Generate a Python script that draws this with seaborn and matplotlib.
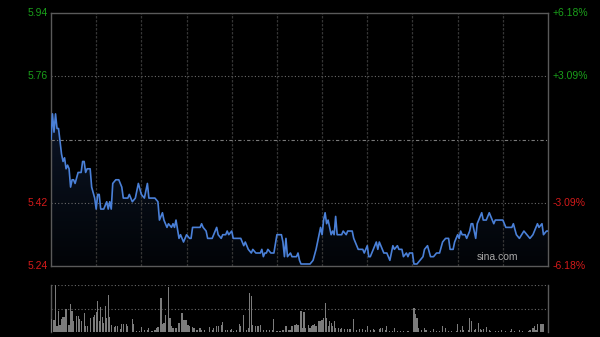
import numpy as np
import pandas as pd
import matplotlib
matplotlib.use("Agg")
import matplotlib.pyplot as plt
import seaborn as sns
from matplotlib.colors import LinearSegmentedColormap
from matplotlib.patches import Polygon

# ---------------- data ----------------
prev_close = 5.59
left_ticks = [5.94, 5.76, 5.42, 5.24]
right_ticks = ["+6.18%", "+3.09%", "-3.09%", "-6.18%"]

minutes = [0, 1, 2, 3, 4, 5, 7, 8, 9, 10, 11, 12, 13, 14, 15, 16, 18, 20, 21, 22, 23, 24, 26, 27, 29, 30,
           31, 32, 33, 35, 37, 38, 39, 40, 41, 43, 45, 47, 48, 51, 52, 54, 56, 58, 60, 62, 64, 65, 67, 69,
           71, 72, 74, 75, 77, 78, 80, 81, 82, 83, 85, 86, 88, 89, 90, 92, 93, 94, 99, 100, 101, 103, 104,
           107, 109, 110, 111, 113, 114, 116, 117, 118, 120, 121, 124, 126, 128, 129, 131, 133, 134, 136,
           139, 140, 141, 142, 143, 144, 146, 148, 150, 153, 154, 155, 156, 157, 159, 160, 162, 163, 164,
           165, 166, 172, 174, 176, 178, 179, 180, 181, 182, 183, 184, 186, 187, 188, 189, 190, 193, 194,
           196, 197, 198, 200, 201, 202, 204, 207, 208, 210, 211, 212, 215, 216, 217, 218, 221, 223, 225,
           226, 227, 228, 230, 231, 233, 234, 236, 237, 238, 240, 241, 242, 243, 245, 247, 248, 250, 252,
           254, 256, 258, 260, 262, 264, 265, 267, 268, 270, 271, 272, 273, 275, 276, 278, 279, 280, 282,
           283, 284, 286, 287, 289, 291, 292, 294, 295, 300, 302, 306, 307, 309, 311, 314, 316, 318, 320,
           323, 324, 326, 327, 329, 330]
prices = [5.59, 5.66, 5.61, 5.66, 5.62, 5.62, 5.55, 5.53, 5.54, 5.51, 5.52, 5.51, 5.46, 5.48, 5.48, 5.47,
          5.50, 5.50, 5.53, 5.53, 5.50, 5.51, 5.51, 5.46, 5.43, 5.40, 5.44, 5.44, 5.40, 5.40, 5.42, 5.40,
          5.42, 5.40, 5.47, 5.48, 5.48, 5.46, 5.43, 5.43, 5.44, 5.42, 5.43, 5.47, 5.44, 5.43, 5.47, 5.43,
          5.43, 5.43, 5.42, 5.37, 5.39, 5.37, 5.35, 5.36, 5.35, 5.36, 5.35, 5.37, 5.32, 5.33, 5.31, 5.32,
          5.33, 5.32, 5.32, 5.35, 5.35, 5.36, 5.35, 5.34, 5.32, 5.32, 5.34, 5.35, 5.33, 5.32, 5.33, 5.33,
          5.34, 5.33, 5.34, 5.32, 5.32, 5.32, 5.30, 5.31, 5.29, 5.28, 5.29, 5.28, 5.28, 5.29, 5.27, 5.28,
          5.28, 5.29, 5.28, 5.28, 5.33, 5.33, 5.31, 5.27, 5.32, 5.27, 5.28, 5.27, 5.27, 5.27, 5.28, 5.26,
          5.25, 5.25, 5.26, 5.29, 5.33, 5.35, 5.33, 5.37, 5.39, 5.36, 5.37, 5.33, 5.34, 5.33, 5.38, 5.33,
          5.33, 5.34, 5.33, 5.34, 5.34, 5.34, 5.32, 5.31, 5.29, 5.29, 5.28, 5.30, 5.27, 5.27, 5.30, 5.31,
          5.29, 5.31, 5.28, 5.28, 5.26, 5.28, 5.30, 5.29, 5.30, 5.29, 5.29, 5.27, 5.28, 5.27, 5.28, 5.28,
          5.25, 5.25, 5.25, 5.26, 5.27, 5.29, 5.30, 5.27, 5.27, 5.28, 5.28, 5.31, 5.32, 5.32, 5.29, 5.29,
          5.31, 5.33, 5.32, 5.34, 5.33, 5.33, 5.32, 5.34, 5.36, 5.36, 5.32, 5.36, 5.37, 5.39, 5.37, 5.37,
          5.39, 5.38, 5.36, 5.37, 5.37, 5.35, 5.35, 5.36, 5.33, 5.32, 5.34, 5.33, 5.32, 5.33, 5.36, 5.35,
          5.36, 5.33, 5.34, 5.34]

vol_minutes = [0, 2, 3, 4, 5, 6, 7, 8, 9, 10, 12, 13, 14, 15, 17, 18, 19, 20, 22, 23, 24, 26, 28, 29, 30,
               31, 32, 33, 34, 35, 36, 37, 38, 39, 40, 42, 43, 44, 46, 47, 48, 50, 51, 54, 55, 57, 59, 60,
               62, 64, 65, 67, 69, 70, 71, 73, 74, 75, 76, 78, 79, 80, 81, 83, 85, 87, 88, 89, 90, 91, 92,
               94, 95, 97, 99, 100, 102, 105, 107, 108, 110, 111, 113, 114, 116, 117, 119, 120, 121, 123,
               125, 126, 128, 130, 131, 132, 133, 134, 136, 137, 138, 139, 141, 143, 145, 147, 148, 150,
               152, 154, 156, 158, 159, 160, 162, 163, 164, 166, 167, 168, 169, 171, 172, 173, 174, 175,
               176, 178, 179, 180, 181, 182, 183, 184, 185, 186, 187, 188, 189, 191, 192, 193, 195, 197,
               198, 199, 201, 203, 205, 207, 209, 210, 212, 214, 215, 218, 219, 220, 222, 223, 225, 227,
               228, 230, 232, 234, 237, 241, 242, 243, 244, 246, 248, 249, 252, 254, 256, 258, 260, 262,
               264, 266, 269, 270, 272, 273, 274, 277, 278, 279, 281, 282, 284, 285, 286, 287, 289, 291,
               292, 295, 297, 299, 302, 305, 306, 308, 311, 313, 317, 318, 320, 321, 322, 323, 325, 326,
               327]
vol_values = [13, 12, 47, 6, 21, 7, 13, 15, 15, 23, 7, 28, 21, 11, 16, 16, 13, 11, 19, 6, 6, 14, 15, 17,
              20, 31, 11, 25, 15, 9, 26, 14, 37, 15, 7, 5, 6, 6, 3, 8, 8, 8, 6, 13, 8, 1, 1, 5, 2, 2, 4,
              1, 2, 4, 5, 34, 8, 9, 17, 45, 14, 6, 4, 4, 9, 19, 12, 12, 12, 7, 6, 5, 4, 2, 4, 2, 2, 5, 2,
              4, 6, 6, 7, 10, 2, 2, 2, 3, 1, 2, 8, 6, 17, 2, 4, 39, 36, 7, 6, 6, 6, 7, 2, 2, 2, 2, 13, 1,
              1, 2, 6, 2, 2, 6, 7, 8, 7, 21, 4, 20, 4, 7, 4, 6, 7, 8, 6, 11, 11, 12, 14, 29, 14, 6, 11, 9,
              6, 11, 4, 4, 3, 4, 3, 3, 3, 3, 13, 2, 3, 3, 2, 6, 2, 3, 2, 3, 4, 4, 2, 6, 1, 1, 4, 1, 1, 1,
              1, 24, 18, 14, 4, 2, 4, 2, 1, 3, 1, 1, 6, 4, 1, 1, 1, 8, 2, 6, 2, 2, 14, 11, 2, 3, 9, 3, 2,
              3, 5, 2, 1, 1, 1, 2, 1, 1, 3, 1, 2, 1, 1, 2, 4, 6, 2, 8, 8, 8, 8]

# ---------------- style ----------------
sns.set_style("dark")
plt.rcParams["font.family"] = ["Liberation Sans", "DejaVu Sans"]
BG = "#000000"
GREEN = "#1a9f1a"
RED = "#d41a1a"
LINE = "#4a80d8"
BORDER = "#5a5a5a"

ymin, ymax = prev_close * (1 - 0.0618), prev_close * (1 + 0.0618)
level_vals = [ymax, prev_close * 1.0309, prev_close * 0.9691, ymin]

fig = plt.figure(figsize=(6.0, 3.37), dpi=100, facecolor=BG)
ax = fig.add_axes([51 / 600, 71 / 337, 497 / 600, 253 / 337])
axv = fig.add_axes([51 / 600, 4.7 / 337, 497 / 600, 47.3 / 337])

for a in (ax, axv):
    a.set_facecolor(BG)
    a.grid(False)

df = pd.DataFrame({"minute": minutes, "price": prices})

# gradient fill under the price line
cmap = LinearSegmentedColormap.from_list("fill", ["#020407", "#12203a"])
grad = np.linspace(0, 1, 256).reshape(-1, 1)
im = ax.imshow(grad, extent=[0, 330, ymin, ymax], origin="lower", cmap=cmap,
               aspect="auto", zorder=1)
poly_xy = np.column_stack([np.r_[df.minute, df.minute.iloc[-1], df.minute.iloc[0]],
                           np.r_[df.price, ymin, ymin]])
poly = Polygon(poly_xy, closed=True, transform=ax.transData, facecolor="none", edgecolor="none")
ax.add_patch(poly)
im.set_clip_path(poly)

# grid lines
for m in range(30, 330, 30):
    ax.axvline(m, color="#353535", lw=0.9, ls=(0, (2, 1.2)), zorder=2)
for lv in (level_vals[1], level_vals[2]):
    ax.axhline(lv, color="#6a6a6a", lw=0.8, ls=(0, (1, 2)), zorder=2)
ax.axhline(prev_close, color="#7a7a7a", lw=0.8, ls=(0, (3, 2, 1, 2)), zorder=2)

sns.lineplot(data=df, x="minute", y="price", ax=ax, color=LINE, lw=1.2, zorder=4)

ax.set_xlim(0, 330)
ax.set_ylim(ymin, ymax)
ax.set_xticks([])
ax.set_yticks([])
ax.set_xlabel("")
ax.set_ylabel("")
for s in ax.spines.values():
    s.set_visible(True)
    s.set_color(BORDER)
    s.set_linewidth(1.0)

# tick labels (left prices, right percentages)
lcolors = [GREEN, GREEN, RED, RED]
for val, lab, rlab, c in zip(level_vals, left_ticks, right_ticks, lcolors):
    ax.text(-0.007, val, f"{lab:.2f}", transform=ax.get_yaxis_transform(), ha="right",
            va="center", color=c, fontsize=7.5)
    ax.text(1.01, val, rlab, transform=ax.get_yaxis_transform(), ha="left",
            va="center", color=c, fontsize=7.5)

ax.text(0.898, 0.016, "sina.com", transform=ax.transAxes, ha="center", va="bottom",
        color="#a8a8a8", fontsize=7.5, zorder=5)

# volume panel
axv.bar(vol_minutes, vol_values, width=0.8, color="#7c7c7c", edgecolor="none",
        linewidth=0, zorder=3)
axv.set_xlim(0, 330)
axv.set_ylim(0, 47.5)
axv.set_xticks([])
axv.set_yticks([])
axv.axhline(23.5, color="#6a6a6a", lw=0.8, ls=(0, (1, 2)), zorder=2)
axv.axhline(47.3, color="#6a6a6a", lw=0.8, ls=(0, (1, 2)), zorder=2)
for side in ("top", "bottom"):
    axv.spines[side].set_visible(False)
for side in ("left", "right"):
    axv.spines[side].set_visible(True)
    axv.spines[side].set_color(BORDER)
    axv.spines[side].set_linewidth(1.0)

fig.savefig("out.png", dpi=100, facecolor=BG)
